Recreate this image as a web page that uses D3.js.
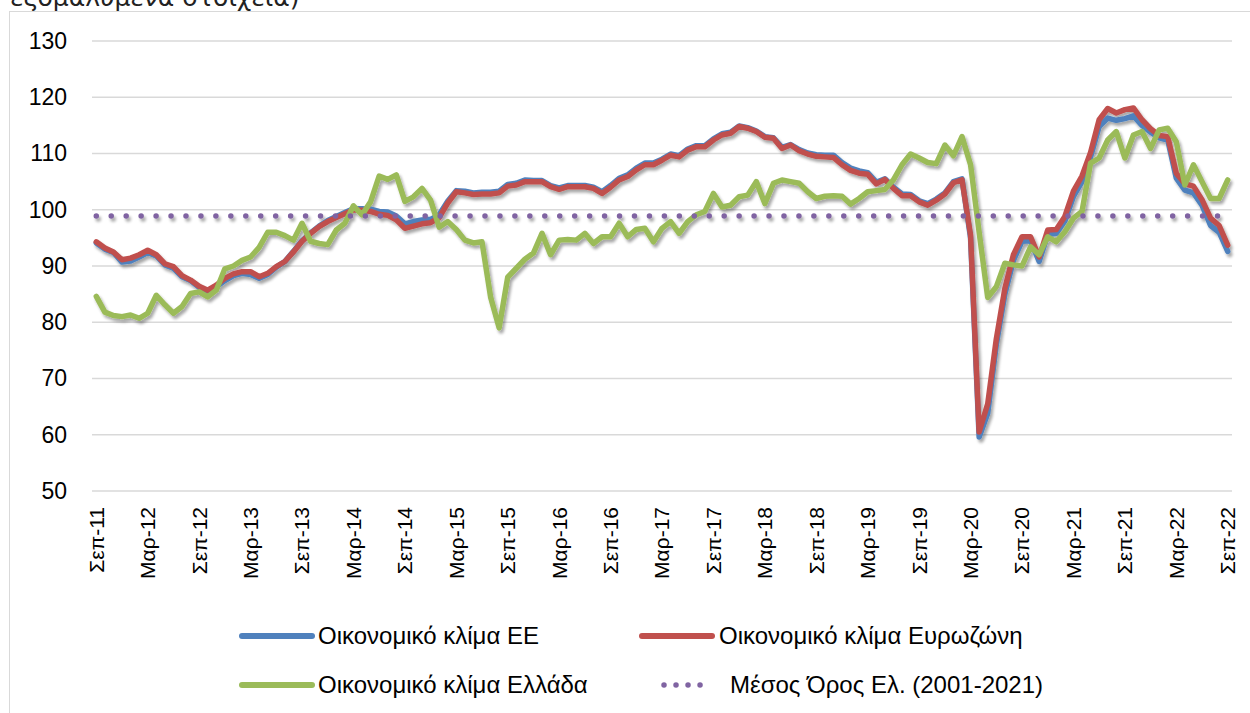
<!DOCTYPE html>
<html>
<head>
<meta charset="utf-8">
<script src="https://cdn.jsdelivr.net/npm/d3@7"></script>
<style>
  html, body { margin: 0; padding: 0; background: #fff; }
  svg { display: block; }
</style>
</head>
<body>
<svg id="chart" width="1250" height="713"></svg>
<script>
// ---- DATA ----
const startMonth = new Date(2011, 8, 1); // Σεπ-11
const monthCount = 133;                  // Σεπ-11 ... Σεπ-22

const tickLabels = ["Σεπ-11","Μαρ-12","Σεπ-12","Μαρ-13","Σεπ-13","Μαρ-14","Σεπ-14","Μαρ-15",
  "Σεπ-15","Μαρ-16","Σεπ-16","Μαρ-17","Σεπ-17","Μαρ-18","Σεπ-18","Μαρ-19","Σεπ-19","Μαρ-20",
  "Σεπ-20","Μαρ-21","Σεπ-21","Μαρ-22","Σεπ-22"];

const yTicks = [50, 60, 70, 80, 90, 100, 110, 120, 130];

const climateEU = [
  94.1, 93.0, 92.4, 90.7, 90.9, 91.6, 92.4, 91.8, 90.2, 89.6, 88.1, 87.4,
  86.2, 85.4, 86.3, 87.4, 88.3, 88.7, 88.5, 87.8, 88.5, 89.8, 90.8, 92.6,
  94.5, 95.9, 97.1, 98.1, 98.8, 99.5, 100.2, 100.2, 100.1, 99.7, 99.6, 98.9,
  97.5, 97.9, 98.2, 98.3, 99.1, 101.5, 103.4, 103.3, 103.0, 103.1, 103.1, 103.3,
  104.5, 104.7, 105.3, 105.2, 105.2, 104.3, 103.9, 104.3, 104.3, 104.3, 104.0, 103.2,
  104.3, 105.6, 106.2, 107.4, 108.3, 108.3, 109.0, 109.9, 109.6, 110.8, 111.4, 111.4,
  112.6, 113.5, 113.8, 114.9, 114.6, 114.0, 113.0, 112.8, 111.1, 111.6, 110.7, 110.1,
  109.8, 109.7, 109.7, 108.4, 107.4, 106.9, 106.6, 104.9, 105.5, 104.0, 102.8, 102.7,
  101.6, 101.1, 101.9, 103.0, 105.0, 105.5, 95.0, 59.6, 63.8, 76.0, 85.0, 91.0,
  94.4, 94.5, 90.8, 95.6, 95.8, 98.0, 102.4, 105.0, 109.4, 114.8, 116.3, 115.9,
  116.2, 116.7, 115.0, 113.8, 112.8, 112.4, 105.6, 103.5, 103.0, 100.8, 97.2, 96.0,
  92.6
];

const climateEurozone = [
  94.3, 93.2, 92.5, 91.1, 91.4, 92.0, 92.8, 92.0, 90.4, 89.9, 88.3, 87.5,
  86.4, 85.7, 86.6, 87.8, 88.6, 89.0, 89.0, 88.1, 88.7, 89.9, 90.8, 92.5,
  94.4, 95.8, 97.0, 97.9, 98.6, 99.3, 100.0, 99.9, 99.7, 99.2, 99.0, 98.2,
  96.7, 97.1, 97.5, 97.7, 98.6, 101.2, 103.2, 103.0, 102.7, 102.8, 102.8, 103.0,
  104.2, 104.4, 105.0, 105.0, 105.0, 104.1, 103.6, 104.1, 104.1, 104.1, 103.8, 102.9,
  104.0, 105.3, 105.9, 107.1, 108.0, 108.0, 108.8, 109.7, 109.4, 110.6, 111.2, 111.2,
  112.4, 113.3, 113.6, 114.8, 114.5, 113.9, 112.9, 112.7, 110.9, 111.5, 110.5, 109.9,
  109.5, 109.4, 109.3, 108.0, 107.0, 106.5, 106.3, 104.6, 105.4, 103.8, 102.5, 102.5,
  101.4, 100.8, 101.7, 102.8, 104.8, 105.3, 95.5, 60.5, 65.5, 77.0, 86.0, 92.0,
  95.2, 95.2, 91.6, 96.4, 96.5, 98.8, 103.3, 106.0, 110.2, 116.0, 118.0, 117.2,
  117.8, 118.1, 116.0, 114.4, 113.2, 113.0, 106.5, 104.6, 104.2, 101.8, 98.5, 97.2,
  93.7
];

const climateGreece = [
  84.6, 81.8, 81.2, 81.0, 81.3, 80.7, 81.6, 84.8, 83.1, 81.6, 82.8, 85.1,
  85.4, 84.5, 85.7, 89.5, 90.0, 91.0, 91.6, 93.3, 96.0, 96.0, 95.4, 94.6,
  97.6, 94.4, 94.0, 93.8, 96.4, 97.6, 100.7, 99.1, 101.4, 106.0, 105.4, 106.2,
  101.5, 102.3, 103.8, 101.7, 96.9, 97.9, 96.5, 94.6, 94.1, 94.3, 84.5, 79.0,
  88.0, 89.6, 91.2, 92.3, 95.8, 92.0, 94.6, 94.7, 94.6, 95.8, 94.0, 95.2,
  95.2, 97.6, 95.2, 96.5, 96.7, 94.3, 96.7, 97.9, 95.8, 97.9, 99.1, 99.7,
  102.9, 100.5, 100.8, 102.3, 102.6, 105.0, 101.1, 104.7, 105.3, 105.0, 104.7, 103.2,
  102.0, 102.4, 102.5, 102.4, 101.0, 102.0, 103.2, 103.4, 103.6, 105.3, 108.0, 109.9,
  109.2, 108.4, 108.2, 111.5, 109.6, 113.0, 108.0, 96.0, 84.4, 86.3, 90.5, 90.2,
  90.0, 93.4, 92.0, 95.2, 94.3, 96.1, 98.5, 99.7, 108.3, 109.2, 112.4, 113.9,
  109.2, 113.3, 113.9, 110.9, 114.2, 114.5, 112.1, 104.4, 108.0, 105.0, 102.0, 102.0,
  105.3
];

const greeceLongTermMean = 98.9;   // Μέσος Όρος Ελ. (2001-2021)
const meanMonthCount = 132;        // plotted up to Αυγ-22

const seriesNames = ["Οικονομικό κλίμα ΕΕ", "Οικονομικό κλίμα Ευρωζώνη",
                     "Οικονομικό κλίμα Ελλάδα", "Μέσος Όρος Ελ. (2001-2021)"];
const seriesColors = ["#4F81BD", "#C0504D", "#9BBB59", "#8064A2"];

// ---- CHART ----
const months = d3.range(monthCount).map(i => d3.timeMonth.offset(startMonth, i));
const svg = d3.select("#chart");
const W = 1250, H = 713;
const plot = { left: 92, right: 1232, top: 41, bottom: 491 };

svg.append("rect").attr("width", W).attr("height", H).attr("fill", "#fff");

const defs = svg.append("defs");
const f = defs.append("filter").attr("id", "shadow")
  .attr("x", "-5%").attr("y", "-5%").attr("width", "110%").attr("height", "115%");
f.append("feGaussianBlur").attr("in", "SourceAlpha").attr("stdDeviation", 1.6).attr("result", "b");
f.append("feOffset").attr("in", "b").attr("dx", 2).attr("dy", 3).attr("result", "o");
f.append("feComponentTransfer").attr("in", "o").attr("result", "s")
  .append("feFuncA").attr("type", "linear").attr("slope", 0.35);
const fm = f.append("feMerge");
fm.append("feMergeNode").attr("in", "s");
fm.append("feMergeNode").attr("in", "SourceGraphic");

// chart border
svg.append("rect").attr("x", 9.5).attr("y", 11.5).attr("width", 1260).attr("height", 720)
  .attr("fill", "none").attr("stroke", "#d9d9d9").attr("stroke-width", 1);

// partial title (cut off at top, as in the source image)
svg.append("text").attr("x", 10).attr("y", 6)
  .attr("font-family", "'DejaVu Sans', 'Noto Sans', sans-serif")
  .attr("font-size", 25).attr("fill", "#222")
  .text("εξομαλυμένα στοιχεία)");

const x = d3.scaleBand().domain(d3.range(monthCount)).range([plot.left, plot.right]);
const cx = i => x(i) + x.bandwidth() / 2;
const y = d3.scaleLinear().domain([50, 130]).range([plot.bottom, plot.top]);

// gridlines
svg.append("g").selectAll("line").data(yTicks).join("line")
  .attr("x1", plot.left).attr("x2", plot.right)
  .attr("y1", d => y(d)).attr("y2", d => y(d))
  .attr("stroke", "#d9d9d9").attr("stroke-width", 1.5);

// y axis labels
const yAxis = d3.axisLeft(y).tickValues(yTicks).tickSize(0).tickPadding(0);
const gy = svg.append("g").attr("transform", `translate(${plot.left - 25},0)`).call(yAxis);
gy.select(".domain").remove();
gy.selectAll("text").attr("font-family", "'Liberation Sans', Arial, sans-serif")
  .attr("font-size", 23).attr("fill", "#000");

// x axis labels
const tickIdx = tickLabels.map((_, k) => k * 6);
const xAxis = d3.axisBottom(x).tickValues(tickIdx).tickSize(0).tickFormat((d, k) => tickLabels[k]);
const gx = svg.append("g").attr("transform", `translate(0,${plot.bottom})`).call(xAxis);
gx.select(".domain").remove();
gx.selectAll("text")
  .attr("font-family", "'Liberation Sans', Arial, sans-serif")
  .attr("font-size", 21).attr("fill", "#000")
  .attr("transform", "rotate(-90)")
  .attr("text-anchor", "end")
  .attr("x", -16).attr("y", 0).attr("dy", "0.35em");

// lines
const line = d3.line().x((d, i) => cx(i)).y(d => y(d));
const series = [climateEU, climateEurozone, climateGreece];
const gl = svg.append("g").attr("filter", "url(#shadow)");
series.forEach((s, k) => {
  gl.append("path").datum(s).attr("d", line)
    .attr("fill", "none").attr("stroke", seriesColors[k])
    .attr("stroke-width", 5.5).attr("stroke-linejoin", "round").attr("stroke-linecap", "round");
});
const meanData = d3.range(meanMonthCount).map(() => greeceLongTermMean);
gl.append("path").datum(meanData).attr("d", line)
  .attr("fill", "none").attr("stroke", seriesColors[3])
  .attr("stroke-width", 5.5).attr("stroke-linecap", "round")
  .attr("stroke-dasharray", "0.01 14.94");

// legend
const legend = svg.append("g").attr("font-family", "'Liberation Sans', Arial, sans-serif")
  .attr("font-size", 24).attr("fill", "#000");
const legItems = [
  { k: 0, x: 242, y: 636, tx: 318 },
  { k: 1, x: 642, y: 636, tx: 719 },
  { k: 2, x: 242, y: 685, tx: 318 },
  { k: 3, x: 664, y: 685, tx: 730 }
];
legItems.forEach(it => {
  const g = legend.append("g");
  if (it.k < 3) {
    g.append("line").attr("x1", it.x).attr("x2", it.x + 70).attr("y1", it.y).attr("y2", it.y)
      .attr("stroke", seriesColors[it.k]).attr("stroke-width", 6).attr("stroke-linecap", "round");
  } else {
    g.append("line").attr("x1", it.x).attr("x2", it.x + 48).attr("y1", it.y).attr("y2", it.y)
      .attr("stroke", seriesColors[it.k]).attr("stroke-width", 5.5).attr("stroke-linecap", "round")
      .attr("stroke-dasharray", "0.01 12");
  }
  g.append("text").attr("x", it.tx).attr("y", it.y).attr("dy", "0.35em").text(seriesNames[it.k]);
});
</script>
</body>
</html>
